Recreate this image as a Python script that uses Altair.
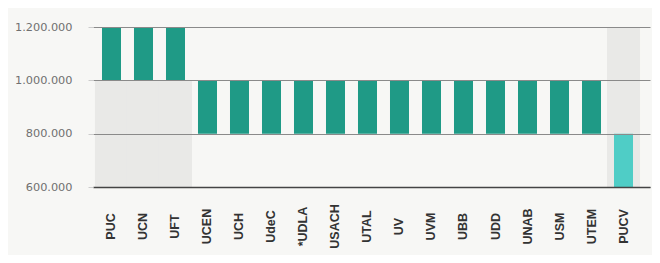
import altair as alt
import pandas as pd

universidades = ["PUC", "UCN", "UFT", "UCEN", "UCH", "UdeC", "*UDLA", "USACH", "UTAL",
                 "UV", "UVM", "UBB", "UDD", "UNAB", "USM", "UTEM", "PUCV"]
minimo = [1000000, 1000000, 1000000, 800000, 800000, 800000, 800000, 800000, 800000,
          800000, 800000, 800000, 800000, 800000, 800000, 800000, 600000]
maximo = [1200000, 1200000, 1200000, 1000000, 1000000, 1000000, 1000000, 1000000, 1000000,
          1000000, 1000000, 1000000, 1000000, 1000000, 1000000, 1000000, 800000]
grupo = ["a", "a", "a", "a", "a", "a", "a", "a", "a",
         "a", "a", "a", "a", "a", "a", "a", "b"]
ticks_y = [600000, 800000, 1000000, 1200000]

# light shaded zones seen in the reference
sombra_u = ["PUC", "UCN", "UFT", "PUCV"]
sombra_lo = [600000, 600000, 600000, 600000]
sombra_hi = [1000000, 1000000, 1000000, 1200000]

df = pd.DataFrame({"u": universidades, "lo": minimo, "hi": maximo, "g": grupo})
ds = pd.DataFrame({"u": sombra_u, "lo": sombra_lo, "hi": sombra_hi})

xscale = alt.Scale(domain=universidades, paddingInner=0.406, paddingOuter=0.406, align=0.346)
yscale = alt.Scale(domain=[600000, 1200000], nice=False, zero=False)

xaxis = alt.Axis(title=None, labelAngle=-90, labelAlign="center",
                 labelBaseline="middle", labelPadding=39, ticks=False,
                 labelFont="Liberation Sans", labelFontSize=12.5,
                 labelFontWeight="bold", labelColor="#333333",
                 domainColor="#444444", domainWidth=1.5, zindex=1)
yaxis = alt.Axis(title=None, values=ticks_y, format=",d", grid=True,
                 gridColor="#8a8a8a", gridWidth=1, domain=False,
                 tickColor="#cccccc", tickSize=5, labelPadding=16,
                 labelFont="DejaVu Sans", labelFontSize=11.3,
                 labelColor="#707070", zindex=1)

sombra = alt.Chart(ds).mark_bar(color="#e9e9e7", width={"band": 1.74}).encode(
    x=alt.X("u:N", sort=universidades, scale=xscale, axis=xaxis),
    y=alt.Y("lo:Q", scale=yscale, axis=yaxis),
    y2="hi:Q",
)

bars = alt.Chart(df).mark_bar().encode(
    x=alt.X("u:N", sort=universidades, scale=xscale, axis=xaxis),
    y=alt.Y("lo:Q", scale=yscale, axis=yaxis),
    y2="hi:Q",
    color=alt.Color("g:N", scale=alt.Scale(domain=["a", "b"], range=["#1f9a86", "#4fcdc6"]),
                    legend=None),
)

chart = alt.layer(sombra, bars).properties(
    width=557, height=160,
    autosize=alt.AutoSizeParams(type="none"),
    padding={"left": 85, "top": 19, "right": 2, "bottom": 68},
    background="#f7f7f5",
).configure(
    locale={"number": {"decimal": ",", "thousands": ".", "grouping": [3], "currency": ["$", ""]}}
).configure_view(stroke=None)

chart.save("out.html", embed_options={"renderer": "svg", "actions": False})
